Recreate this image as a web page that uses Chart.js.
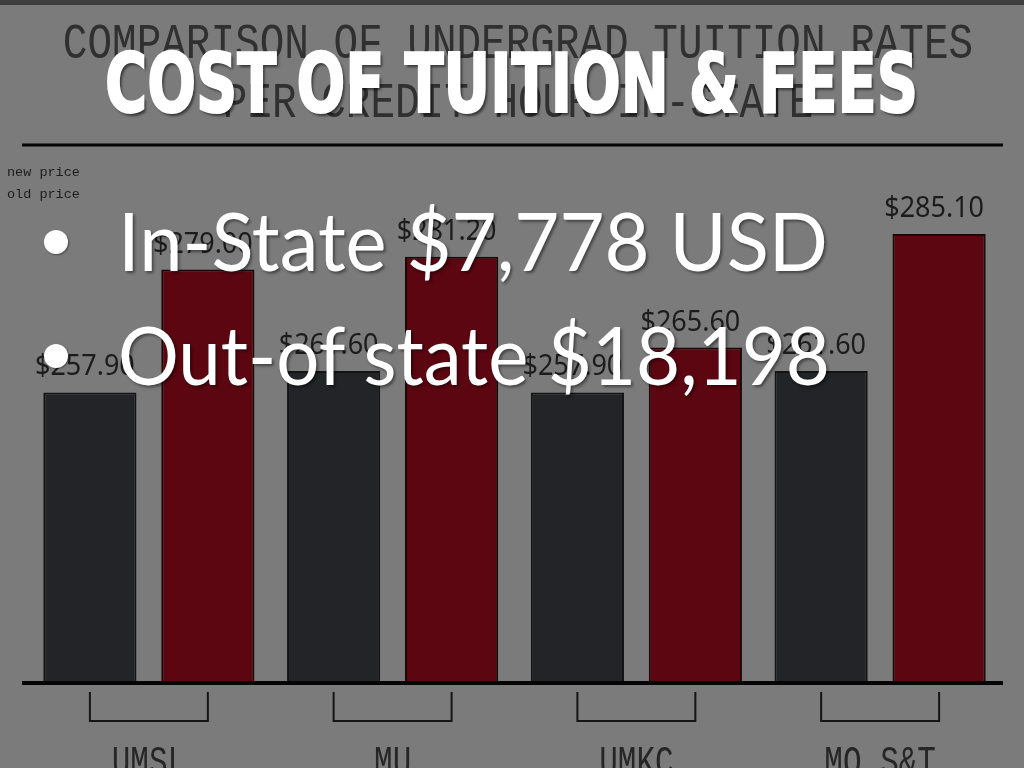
<!DOCTYPE html>
<html>
<head>
<meta charset="utf-8">
<script src="https://cdn.jsdelivr.net/npm/chart.js@4.4.0/dist/chart.umd.min.js"></script>
<style>
  html, body { margin: 0; padding: 0; background: #7b7b7b; width: 1024px; height: 768px; overflow: hidden; }
  #wrap { position: relative; width: 1024px; height: 768px; }
  #topbar { position: absolute; left: 0; top: 0; width: 1024px; height: 5px; background: #3f3f3f; }
  canvas { position: absolute; left: 0; top: 0; }
  .ov { position: absolute; white-space: nowrap; color: #fff; transform-origin: 0 0; line-height: 1; }
  #headline { left: 105px; font-weight: bold; font-family: 'Liberation Sans Narrow', 'DejaVu Sans Condensed', sans-serif; text-shadow: 3px 3px 3px rgba(0,0,0,0.55); -webkit-text-stroke: 2px #fff; }
  .bullet-text { left: 118px; font-family: Lato, 'Open Sans', sans-serif; text-shadow: 2px 2px 3px rgba(0,0,0,0.45); }
  .dot { position: absolute; left: 44px; width: 24px; height: 24px; border-radius: 50%; background: #fff; box-shadow: 1px 1px 2px rgba(0,0,0,0.4); }
</style>
</head>
<body>
<div id="wrap">
  <div id="topbar"></div>
  <canvas id="tuition-chart" width="1024" height="768"></canvas>
  <span id="headline" class="ov"></span>
  <div class="dot" style="top:230px"></div>
  <span id="bullet-1" class="ov bullet-text"></span>
  <div class="dot" style="top:344px"></div>
  <span id="bullet-2" class="ov bullet-text"></span>
</div>
<script>
  'use strict'

  // Chart data
  var categories = ['UMSL', 'MU', 'UMKC', 'MO S&T']
  var oldPrice = [257.90, 261.60, 257.90, 261.60]
  var newPrice = [279.00, 281.20, 265.60, 285.10]
  var seriesLabels = ['old price', 'new price']
  var chartTitle = ['COMPARISON OF UNDERGRAD TUITION RATES', 'PER CREDIT HOUR IN-STATE']

  // Slide text
  var headline = 'COST OF TUITION & FEES'
  var bullets = ['In-State $7,778 USD', 'Out-of state $18,198']

  var ink = '#1c1c1c'

  // draws the titles, legend, value labels, baseline and brackets
  var decorPlugin = {
    id: 'decor',
    afterDatasetsDraw: function (chart) {
      var ctx = chart.ctx
      var area = chart.chartArea
      var m0 = chart.getDatasetMeta(0)
      var m1 = chart.getDatasetMeta(1)
      ctx.save()

      // value labels
      ctx.fillStyle = ink
      ctx.textAlign = 'center'
      ctx.textBaseline = 'alphabetic'
      chart.data.datasets.forEach(function (ds, d) {
        var meta = chart.getDatasetMeta(d)
        meta.data.forEach(function (bar, i) {
          ctx.save()
          ctx.translate(bar.x - 5, bar.y - 17)
          ctx.scale(0.93, 1)
          ctx.font = '29px "Noto Sans", "Open Sans", sans-serif'
          ctx.fillText('$' + ds.data[i].toFixed(2), 0, 0)
          ctx.restore()
        })
      })

      // baseline and top rule
      ctx.strokeStyle = '#050505'
      ctx.lineWidth = 4
      ctx.beginPath()
      ctx.moveTo(area.left - 5, area.bottom)
      ctx.lineTo(area.right + 1, area.bottom)
      ctx.stroke()
      ctx.lineWidth = 3
      ctx.beginPath()
      ctx.moveTo(area.left - 5, area.top)
      ctx.lineTo(area.right + 1, area.top)
      ctx.stroke()

      // brackets + category labels
      ctx.strokeStyle = '#151515'
      ctx.lineWidth = 2
      categories.forEach(function (cat, i) {
        var xa = m0.data[i].x
        var xb = m1.data[i].x
        ctx.beginPath()
        ctx.moveTo(xa, area.bottom + 9)
        ctx.lineTo(xa, area.bottom + 38)
        ctx.lineTo(xb, area.bottom + 38)
        ctx.lineTo(xb, area.bottom + 9)
        ctx.stroke()

        var cx = chart.scales.x.getPixelForValue(i)
        ctx.save()
        ctx.translate(cx, area.bottom + 92)
        ctx.scale(1, 1.4)
        ctx.font = '31px "Liberation Mono", "DejaVu Sans Mono", monospace'
        ctx.fillStyle = '#262626'
        ctx.fillText(cat, 0, 0)
        ctx.restore()
      })

      // chart title
      ctx.fillStyle = '#303030'
      chartTitle.forEach(function (line, k) {
        ctx.save()
        ctx.translate(518, 58 + k * 59)
        ctx.scale(1, 1.22)
        ctx.font = '41px "Liberation Mono", "DejaVu Sans Mono", monospace'
        ctx.fillText(line, 0, 0)
        ctx.restore()
      })

      // legend (new price first)
      ctx.textAlign = 'left'
      ctx.fillStyle = ink
      ctx.font = '13.5px "Liberation Mono", "DejaVu Sans Mono", monospace'
      ;[seriesLabels[1], seriesLabels[0]].forEach(function (lab, k) {
        ctx.fillText(lab, 7, 176 + k * 22)
      })

      ctx.restore()
    }
  }

  var tuitionChart = new Chart(document.getElementById('tuition-chart').getContext('2d'), {
    type: 'bar',
    data: {
      labels: categories,
      datasets: [
        {
          label: seriesLabels[0],
          data: oldPrice,
          backgroundColor: '#232427',
          borderColor: '#141414',
          borderWidth: 2,
          categoryPercentage: 0.968,
          barPercentage: 0.79
        },
        {
          label: seriesLabels[1],
          data: newPrice,
          backgroundColor: '#5b0611',
          borderColor: '#1a0808',
          borderWidth: 2,
          categoryPercentage: 0.968,
          barPercentage: 0.79
        }
      ]
    },
    options: {
      responsive: false,
      animation: false,
      devicePixelRatio: 1,
      layout: {
        padding: { left: 27, right: 22, top: 145, bottom: 85 }
      },
      scales: {
        x: { display: false },
        y: { display: false, min: 208, max: 300.4 }
      },
      plugins: {
        legend: { display: false },
        tooltip: { enabled: false }
      }
    },
    plugins: [decorPlugin]
  })

  // slide overlay text: size from cap height, squeeze to the slide width
  var probe = document.createElement('canvas').getContext('2d')
  function placeText (el, text, capTop, capH, w) {
    var cs = getComputedStyle(el)
    probe.font = cs.fontWeight + ' 100px ' + cs.fontFamily
    var m = probe.measureText('H')
    var capEm = m.actualBoundingBoxAscent / 100
    var fa = m.fontBoundingBoxAscent / 100
    var fd = m.fontBoundingBoxDescent / 100
    var size = capH / capEm
    var baseOff = (size - (fa + fd) * size) / 2 + fa * size
    el.style.fontSize = size + 'px'
    el.style.top = (capTop + capH - baseOff) + 'px'
    el.textContent = text
    var r = el.getBoundingClientRect().width
    el.style.transform = 'scaleX(' + (w / r) + ')'
  }
  placeText(document.getElementById('headline'), headline, 52, 60, 813)
  placeText(document.getElementById('bullet-1'), bullets[0], 213, 59, 710)
  placeText(document.getElementById('bullet-2'), bullets[1], 327, 59, 712)
</script>
</body>
</html>
